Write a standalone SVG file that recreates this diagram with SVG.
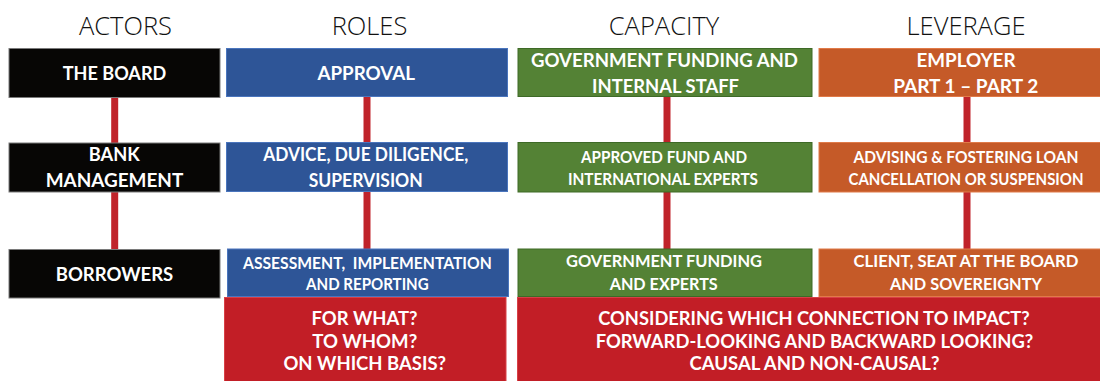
<svg xmlns="http://www.w3.org/2000/svg" width="1100" height="381" viewBox="0 0 1100 381">
<style>
.h{font-family:"Open Sans","Liberation Sans",sans-serif;font-weight:300;font-size:25.5px;fill:#111;text-anchor:middle}
.t{font-family:Lato,"Liberation Sans",sans-serif;font-weight:700;fill:#fff;text-anchor:middle}
.b{font-size:18.5px}
.s{font-size:16.8px}
.r{font-size:18px}
.k{fill:#070605;stroke:#7a7a7a;stroke-width:1}
.bl{fill:#2E5597;stroke:#4A75BD;stroke-width:1}
.g{fill:#548235;stroke:#3E6A27;stroke-width:1}
.o{fill:#C55A28;stroke:#E07A48;stroke-width:1}
.rd{fill:#C21E26;stroke:#D84046;stroke-width:1}
.c{stroke:#C0232A;stroke-width:7;fill:none}
.pre{white-space:pre}
</style>
<rect width="1100" height="381" fill="#fff"/>
<g id="headings">
<text class="h" x="125.5" y="35">ACTORS</text>
<text class="h" x="369.5" y="35">ROLES</text>
<text class="h" x="664" y="35">CAPACITY</text>
<text class="h" x="966" y="35">LEVERAGE</text>
</g>
<g id="connectors">
<line class="c" x1="114.7" y1="97" x2="114.7" y2="143"/>
<line class="c" x1="114.7" y1="192" x2="114.7" y2="249"/>
<line class="c" x1="367" y1="97" x2="367" y2="143"/>
<line class="c" x1="367" y1="192" x2="367" y2="249"/>
<line class="c" x1="667" y1="97" x2="667" y2="143"/>
<line class="c" x1="667" y1="192" x2="667" y2="249"/>
<line class="c" x1="967" y1="97" x2="967" y2="143"/>
<line class="c" x1="967" y1="192" x2="967" y2="249"/>
</g>
<g id="the-board">
<rect class="k" x="9" y="48.5" width="211" height="49"/>
<text class="t b" x="114.5" y="80" textLength="103.5" lengthAdjust="spacingAndGlyphs">THE BOARD</text>
</g>
<g id="bank-management">
<rect class="k" x="9" y="143" width="211" height="49"/>
<text class="t b" x="114.3" y="160.7" textLength="51" lengthAdjust="spacingAndGlyphs">BANK</text>
<text class="t b" x="114.5" y="186.7" textLength="137.6" lengthAdjust="spacingAndGlyphs">MANAGEMENT</text>
</g>
<g id="borrowers">
<rect class="k" x="9" y="249.5" width="211" height="48.5"/>
<text class="t b" x="114.5" y="280.8" textLength="117.5" lengthAdjust="spacingAndGlyphs">BORROWERS</text>
</g>
<g id="approval">
<rect class="bl" x="226.5" y="48.5" width="281" height="48"/>
<text class="t b" x="366.2" y="80" textLength="97.5" lengthAdjust="spacingAndGlyphs">APPROVAL</text>
</g>
<g id="advice">
<rect class="bl" x="226.5" y="142.5" width="281" height="49"/>
<text class="t b" x="365.8" y="160.7" textLength="205" lengthAdjust="spacingAndGlyphs">ADVICE, DUE DILIGENCE,</text>
<text class="t b" x="365.7" y="186.7" textLength="114" lengthAdjust="spacingAndGlyphs">SUPERVISION</text>
</g>
<g id="assessment">
<rect class="bl" x="227.5" y="249" width="281" height="47.5"/>
<text class="t s pre" x="367.4" y="269" textLength="248.7" lengthAdjust="spacingAndGlyphs">ASSESSMENT,  IMPLEMENTATION</text>
<text class="t s" x="367.4" y="290" textLength="122.6" lengthAdjust="spacingAndGlyphs">AND REPORTING</text>
</g>
<g id="gov-funding-internal">
<rect class="g" x="518" y="48.5" width="294" height="48"/>
<text class="t b" x="664.5" y="66.7" textLength="267" lengthAdjust="spacingAndGlyphs">GOVERNMENT FUNDING AND</text>
<text class="t b" x="665.5" y="92.5" textLength="147" lengthAdjust="spacingAndGlyphs">INTERNAL STAFF</text>
</g>
<g id="approved-fund">
<rect class="g" x="518" y="142.5" width="294" height="49.5"/>
<text class="t s" x="664" y="163.3" textLength="166" lengthAdjust="spacingAndGlyphs">APPROVED FUND AND</text>
<text class="t s" x="663" y="185" textLength="190" lengthAdjust="spacingAndGlyphs">INTERNATIONAL EXPERTS</text>
</g>
<g id="gov-funding-experts">
<rect class="g" x="518" y="249" width="294" height="47.5"/>
<text class="t s" x="664" y="267.3" textLength="196" lengthAdjust="spacingAndGlyphs">GOVERNMENT FUNDING</text>
<text class="t s" x="663.7" y="290" textLength="108" lengthAdjust="spacingAndGlyphs">AND EXPERTS</text>
</g>
<g id="employer">
<rect class="o" x="819" y="48.5" width="282" height="48"/>
<text class="t b" x="966" y="66.7" textLength="99" lengthAdjust="spacingAndGlyphs">EMPLOYER</text>
<text class="t b" x="965.7" y="92.5" textLength="145" lengthAdjust="spacingAndGlyphs">PART 1 – PART 2</text>
</g>
<g id="advising">
<rect class="o" x="819" y="142.5" width="282" height="49.5"/>
<text class="t s" x="966" y="163.3" textLength="225" lengthAdjust="spacingAndGlyphs">ADVISING &amp; FOSTERING LOAN</text>
<text class="t s" x="966" y="185" textLength="235" lengthAdjust="spacingAndGlyphs">CANCELLATION OR SUSPENSION</text>
</g>
<g id="client">
<rect class="o" x="819" y="249" width="282" height="47.5"/>
<text class="t s" x="966" y="267.3" textLength="225" lengthAdjust="spacingAndGlyphs">CLIENT, SEAT AT THE BOARD</text>
<text class="t s" x="966" y="290" textLength="152" lengthAdjust="spacingAndGlyphs">AND SOVEREIGNTY</text>
</g>
<g id="questions-roles">
<rect class="rd" x="224.5" y="297.5" width="281.5" height="85"/>
<text class="t r" x="364.5" y="325" textLength="106" lengthAdjust="spacingAndGlyphs">FOR WHAT?</text>
<text class="t r" x="364.7" y="347.7" textLength="105" lengthAdjust="spacingAndGlyphs">TO WHOM?</text>
<text class="t r" x="364.8" y="370" textLength="162.7" lengthAdjust="spacingAndGlyphs">ON WHICH BASIS?</text>
</g>
<g id="questions-impact">
<rect class="rd" x="517.5" y="297.5" width="584" height="85"/>
<text class="t r" x="814" y="325" textLength="431.4" lengthAdjust="spacingAndGlyphs">CONSIDERING WHICH CONNECTION TO IMPACT?</text>
<text class="t r" x="814.5" y="347.7" textLength="437.7" lengthAdjust="spacingAndGlyphs">FORWARD-LOOKING AND BACKWARD LOOKING?</text>
<text class="t r" x="814.5" y="370" textLength="250" lengthAdjust="spacingAndGlyphs">CAUSAL AND NON-CAUSAL?</text>
</g>
</svg>
